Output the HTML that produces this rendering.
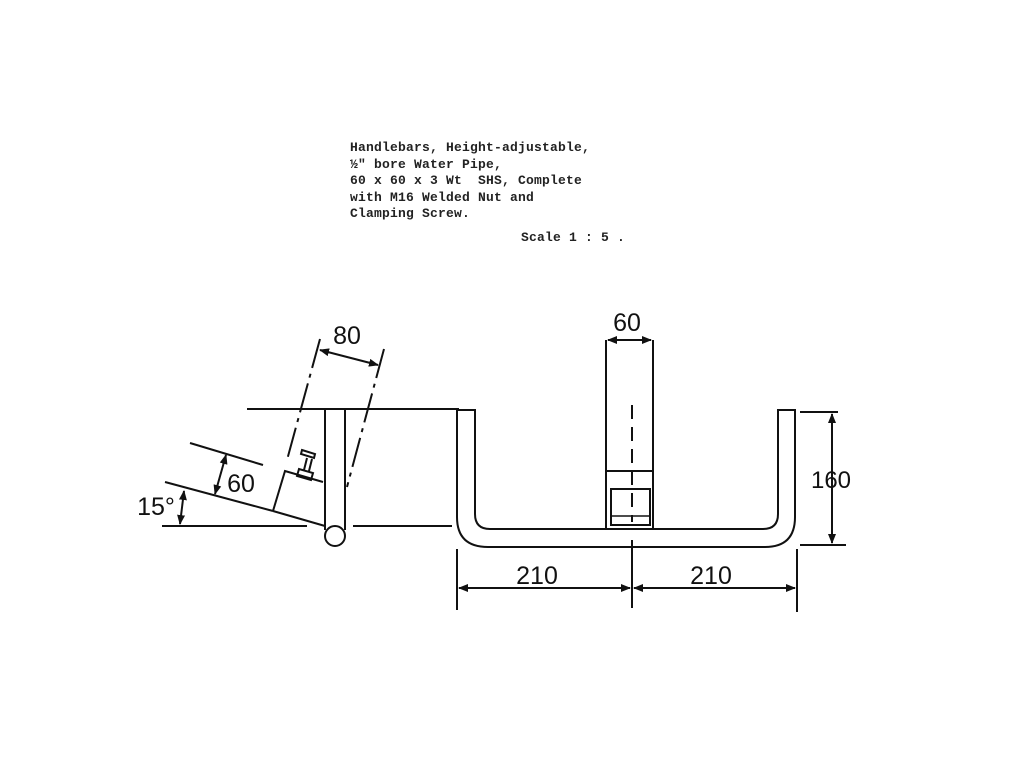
<!DOCTYPE html>
<html><head><style>
body{margin:0;background:#fff;width:1024px;height:768px;overflow:hidden}
.t{position:absolute;left:350px;top:140px;font:bold 13px "Liberation Mono",monospace;line-height:16.5px;color:#222;white-space:pre;letter-spacing:0.2px}
</style></head><body>
<div class="t">Handlebars, Height-adjustable,
½" bore Water Pipe,
60 x 60 x 3 Wt  SHS, Complete
with M16 Welded Nut and
Clamping Screw.</div>
<div class="t" style="left:521px;top:230px">Scale 1 : 5 .</div>
<svg width="1024" height="768" style="position:absolute;left:0;top:0" font-family="Liberation Sans,sans-serif" font-size="25" fill="#111">
<defs><marker id="a" viewBox="0 0 10 10" refX="9" refY="5" markerWidth="5" markerHeight="5" orient="auto-start-reverse"><path d="M0,1L10,5L0,9z" fill="#111"/></marker></defs>
<g stroke="#111" stroke-width="2" fill="none">
<line x1="247" y1="409" x2="459" y2="409"/>
<line x1="162" y1="526" x2="307" y2="526"/>
<line x1="353" y1="526" x2="452" y2="526"/>
<line x1="325" y1="409" x2="325" y2="530"/>
<line x1="345" y1="409" x2="345" y2="530"/>
<circle cx="335" cy="536" r="10"/>
<path d="M273,511 L285,471 L323,482 M325,526 L273,511"/>
<path d="M297,476 l2,-7 l14,4 l-2,7z M304,470 l3,-12 M309,471 l3,-12 M302,450 l13,4 l-1,4 l-13,-4z"/>
<line x1="320" y1="339" x2="287" y2="460" stroke-dasharray="30,6,4,6"/>
<line x1="384" y1="349" x2="347" y2="487" stroke-dasharray="30,6,4,6"/>
<line x1="320" y1="350" x2="378" y2="365" marker-start="url(#a)" marker-end="url(#a)"/>
<line x1="190" y1="443" x2="263" y2="465"/>
<line x1="165" y1="482" x2="273" y2="511"/>
<line x1="226" y1="455" x2="215" y2="494" marker-start="url(#a)" marker-end="url(#a)"/>
<line x1="184" y1="491" x2="180" y2="524" marker-start="url(#a)" marker-end="url(#a)"/>
<path d="M457,410 L475,410 L475,514 Q475,529 490,529 L763,529 Q778,529 778,514 L778,410 L795,410 L795,517 Q795,547 765,547 L488,547 Q457,547 457,517 Z"/>
<path d="M606,340 L606,529 M653,340 L653,529 M606,471 L653,471"/>
<rect x="611" y="489" width="39" height="36"/>
<line x1="611" y1="516" x2="650" y2="516" stroke-width="1.5"/>
<line x1="632" y1="405" x2="632" y2="522" stroke-dasharray="14,8"/>
<line x1="608" y1="340" x2="651" y2="340" marker-start="url(#a)" marker-end="url(#a)"/>
<line x1="800" y1="412" x2="838" y2="412"/>
<line x1="800" y1="545" x2="846" y2="545"/>
<line x1="832" y1="414" x2="832" y2="543" marker-start="url(#a)" marker-end="url(#a)"/>
<line x1="457" y1="549" x2="457" y2="610"/>
<line x1="797" y1="549" x2="797" y2="612"/>
<line x1="632" y1="540" x2="632" y2="608"/>
<line x1="459" y1="588" x2="630" y2="588" marker-start="url(#a)" marker-end="url(#a)"/>
<line x1="634" y1="588" x2="795" y2="588" marker-start="url(#a)" marker-end="url(#a)"/>
</g>
<text x="347" y="344" text-anchor="middle">80</text>
<text x="241" y="492" text-anchor="middle">60</text>
<text x="156" y="515" text-anchor="middle">15°</text>
<text x="627" y="331" text-anchor="middle">60</text>
<text x="831" y="488" text-anchor="middle" font-size="24">160</text>
<text x="537" y="584" text-anchor="middle">210</text>
<text x="711" y="584" text-anchor="middle">210</text>
</svg>
</body></html>
